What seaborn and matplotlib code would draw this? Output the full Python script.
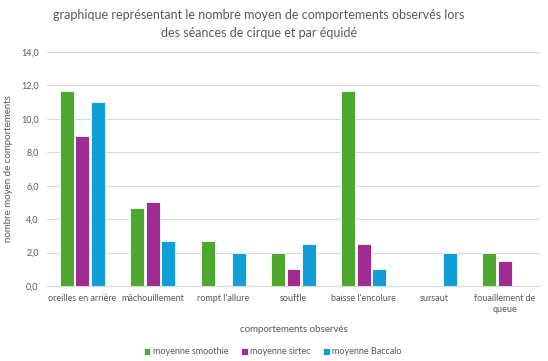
import pandas as pd
import matplotlib.pyplot as plt
import seaborn as sns

# Data
categories = ["oreilles en arrière", "mâchouillement", "rompt l'allure", "souffle",
              "baisse l'encolure", "sursaut", "fouaillement de\nqueue"]
smoothie = [11.67, 4.67, 2.67, 2.0, 11.67, 0.0, 2.0]
sirtec = [9.0, 5.0, 0.0, 1.0, 2.5, 0.0, 1.5]
baccalo = [11.0, 2.67, 2.0, 2.5, 1.0, 2.0, 0.0]
series_names = ["moyenne smoothie", "moyenne sirtec", "moyenne Baccalo"]
colors = ["#4EA72E", "#A02B93", "#0F9ED5"]

TEXT = "#595959"


def build_frame() -> pd.DataFrame:
    rows = []
    for name, vals in zip(series_names, [smoothie, sirtec, baccalo]):
        for cat, v in zip(categories, vals):
            rows.append({"comportement": cat, "serie": name, "valeur": v})
    return pd.DataFrame(rows)


def main():
    df = build_frame()
    sns.set_style("white")
    plt.rcParams["font.family"] = ["Lato", "DejaVu Sans"]

    fig = plt.figure(figsize=(5.48, 3.61), dpi=100)
    ax = fig.add_axes([47 / 548, 1 - 286 / 361, 493 / 548, 234 / 361])

    sns.barplot(data=df, x="comportement", y="valeur", hue="serie",
                palette=colors, saturation=1, width=0.66, gap=0.1,
                edgecolor="white", linewidth=0.6, ax=ax, legend=True)

    ax.set_ylim(0, 14)
    ax.set_yticks(range(0, 15, 2))
    ax.set_yticklabels([f"{v:.1f}".replace(".", ",") for v in range(0, 15, 2)])
    ax.set_xlim(-0.5, len(categories) - 0.5)
    ax.yaxis.grid(True, color="#D9D9D9", linewidth=0.8)
    ax.set_axisbelow(True)
    for side in ["top", "right", "left"]:
        ax.spines[side].set_visible(False)
    ax.spines["bottom"].set_color("#D9D9D9")
    ax.tick_params(axis="both", length=0, labelsize=6.5, labelcolor=TEXT, pad=6)

    ax.set_xlabel("comportements observés", fontsize=7, color=TEXT, labelpad=8)
    ax.set_ylabel("nombre moyen de comportements", fontsize=7, color=TEXT, labelpad=6)

    fig.text(259 / 548, 1 - 24 / 361,
             "graphique représentant le nombre moyen de comportements observés lors\n"
             "des séances de cirque et par équidé",
             fontsize=9, color=TEXT, ha="center", va="center", linespacing=1.55)

    ax.legend(loc="center", bbox_to_anchor=(273 / 548, 1 - 352 / 361),
              bbox_transform=fig.transFigure, ncol=3, frameon=False,
              fontsize=6.5, labelcolor=TEXT, handlelength=0.7, handleheight=0.7,
              handletextpad=0.3, columnspacing=1.4)

    fig.savefig("out.png", dpi=100)


if __name__ == "__main__":
    main()
